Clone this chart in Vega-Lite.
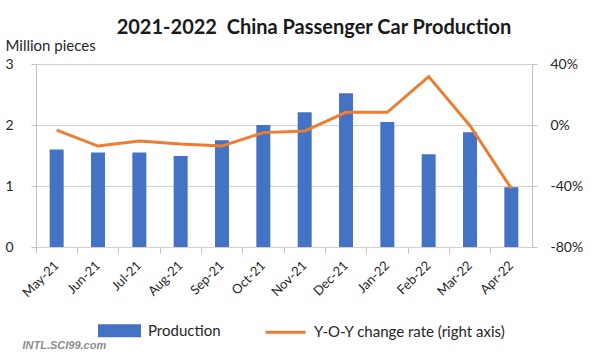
{
  "$schema": "https://vega.github.io/schema/vega-lite/v6.json",
  "autosize": "none",
  "width": 496,
  "height": 183,
  "padding": {"left": 36, "top": 64, "right": 59, "bottom": 107},
  "background": "white",
  "title": {
    "text": "2021-2022\u00a0 China Passenger Car Production",
    "font": "Lato",
    "fontSize": 20,
    "fontWeight": "bold",
    "color": "#1a1a1a",
    "anchor": "middle",
    "dx": 30,
    "offset": 0
  },
  "data": {
    "values": [
      {"month": "May-21", "production": 1.60, "yoy": -3.3},
      {"month": "Jun-21", "production": 1.55, "yoy": -13.8},
      {"month": "Jul-21", "production": 1.55, "yoy": -10.5},
      {"month": "Aug-21", "production": 1.49, "yoy": -12.5},
      {"month": "Sep-21", "production": 1.75, "yoy": -13.8},
      {"month": "Oct-21", "production": 2.00, "yoy": -5.0},
      {"month": "Nov-21", "production": 2.21, "yoy": -4.0},
      {"month": "Dec-21", "production": 2.52, "yoy": 8.3},
      {"month": "Jan-22", "production": 2.05, "yoy": 8.3},
      {"month": "Feb-22", "production": 1.52, "yoy": 31.7},
      {"month": "Mar-22", "production": 1.88, "yoy": -0.5},
      {"month": "Apr-22", "production": 0.98, "yoy": -41.6}
    ]
  },
  "config": {
    "view": {"stroke": null},
    "font": "Lato",
    "axis": {
      "labelFont": "Lato",
      "titleFont": "Lato",
      "labelColor": "#262626",
      "titleColor": "#262626",
      "domainColor": "#BFBFBF",
      "tickColor": "#BFBFBF",
      "gridColor": "#D0D0D0"
    }
  },
  "encoding": {
    "x": {
      "field": "month",
      "type": "nominal",
      "sort": null,
      "scale": {"paddingInner": 0, "paddingOuter": 0},
      "axis": {
        "title": "INTL.SCI99.com",
        "titleFont": "Liberation Sans",
        "titleFontSize": 11,
        "titleFontWeight": "bold",
        "titleFontStyle": "italic",
        "titleColor": "#8c8c8c",
        "titleAlign": "left",
        "titleBaseline": "alphabetic",
        "titleAnchor": "start",
        "titleX": -14,
        "titleY": 101,
        "labelAngle": -45,
        "labelAlign": "right",
        "labelBaseline": "middle",
        "labelFontSize": 13,
        "labelPadding": 10,
        "bandPosition": 0,
        "tickSize": 6,
        "domain": false
      }
    }
  },
  "layer": [
    {
      "mark": {"type": "bar", "size": 14, "color": "#4472C4"},
      "encoding": {
        "y": {
          "field": "production",
          "type": "quantitative",
          "scale": {"domain": [0, 3]},
          "axis": {
            "title": "Million pieces",
            "titleAngle": 0,
            "titleAlign": "left",
            "titleBaseline": "alphabetic",
            "titleFontSize": 15,
            "titleFontWeight": "normal",
            "titleX": -31,
            "titleY": -14,
            "values": [0, 1, 2, 3],
            "labelAlign": "left",
            "labelFontSize": 14,
            "labelPadding": 26,
            "tickSize": 5,
            "grid": true
          }
        },
        "color": {
          "datum": "Production",
          "type": "nominal",
          "scale": {
            "domain": ["Production", "Y-O-Y change rate (right axis)"],
            "range": ["#4472C4", "#ED7D31"]
          },
          "legend": {
            "orient": "none",
            "direction": "horizontal",
            "legendX": 62,
            "legendY": 245,
            "title": null,
            "labelFontSize": 15,
            "labelLimit": 400,
            "labelColor": "#262626",
            "labelOffset": 7,
            "columnPadding": 38,
            "symbolSize": 1600,
            "encode": {
              "symbols": {
                "update": {
                  "shape": {"signal": "datum.value === 'Production' ? 'M-1,-0.25H1V0.25H-1Z' : 'M-1,0H1'"},
                  "fill": {"signal": "datum.value === 'Production' ? '#4472C4' : 'transparent'"},
                  "stroke": {"signal": "datum.value === 'Production' ? 'transparent' : '#ED7D31'"},
                  "strokeWidth": {"value": 3},
                  "opacity": {"value": 1}
                }
              }
            }
          }
        }
      }
    },
    {
      "mark": {"type": "line", "strokeWidth": 3, "color": "#ED7D31"},
      "encoding": {
        "y": {
          "field": "yoy",
          "type": "quantitative",
          "scale": {"domain": [-80, 40]},
          "axis": {
            "orient": "right",
            "title": null,
            "values": [-80, -40, 0, 40],
            "labelExpr": "datum.value + '%'",
            "labelAlign": "left",
            "labelFontSize": 14,
            "labelPadding": 13,
            "tickSize": 5,
            "grid": false
          }
        },
        "color": {"datum": "Y-O-Y change rate (right axis)", "type": "nominal"}
      }
    }
  ],
  "resolve": {"scale": {"y": "independent"}}
}
